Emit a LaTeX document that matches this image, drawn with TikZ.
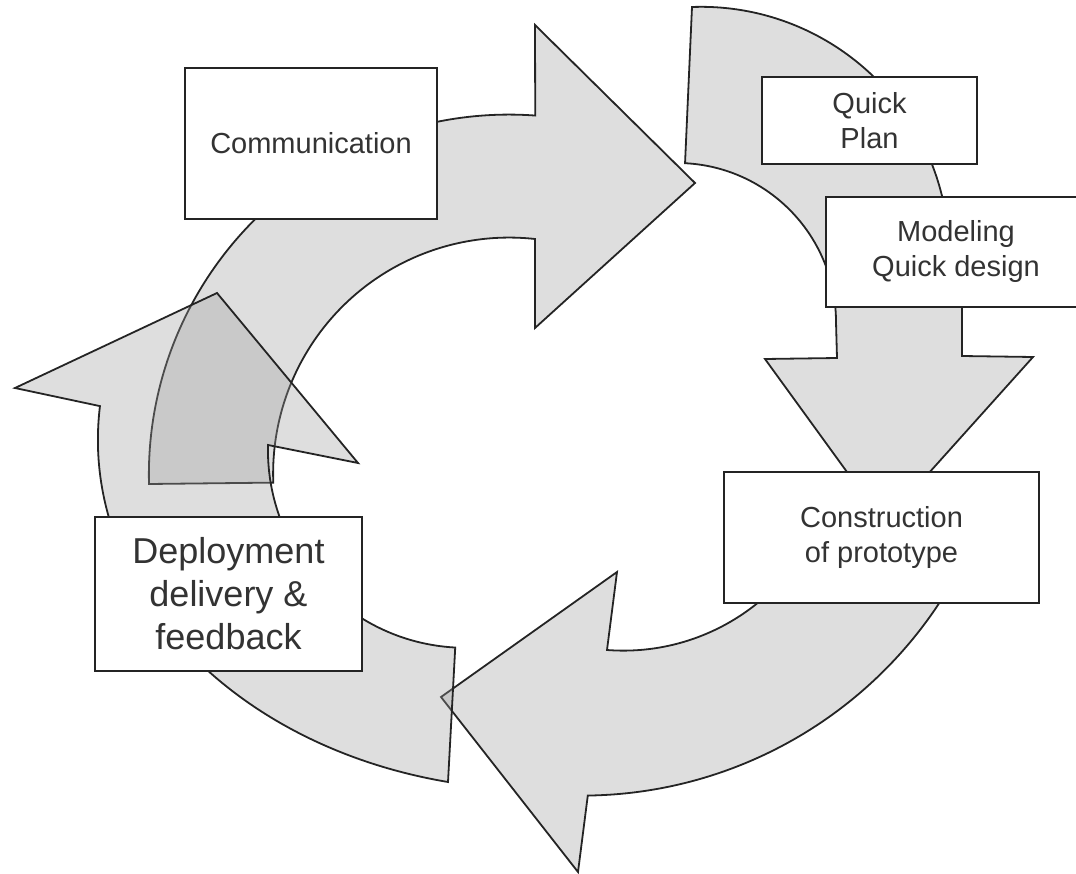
\documentclass[tikz,border=0pt]{standalone}
\usepackage{fontspec}
\setmainfont{Liberation Sans}
\usepackage{tikz}

\definecolor{ringgray}{gray}{0.61}
\definecolor{edgegray}{gray}{0.14}
\definecolor{inkgray}{gray}{0.2}

\tikzset{
  ringarrow/.style={draw=edgegray, line width=1.8pt, fill=ringgray, fill opacity=0.33},
  stage/.style={draw=edgegray, line width=2pt, fill=white, align=center, inner sep=0pt,
    text=inkgray, font=\fontsize{29}{35}\selectfont},
}

\begin{document}
\begin{tikzpicture}[x=1pt,y=-1pt]
  \clip (0,0) rectangle (1076,874);

  % the four bent arrows of the cycle
  \draw[ringarrow] (149,484) arc[start angle=178.5, end angle=274.2, radius=360]
    -- (535,25) -- (695,183) -- (535,328) -- (535,239)
    arc[start angle=276.3, end angle=177.8, radius=236] -- cycle;
  \draw[ringarrow] (692,7) arc[start angle=267.9, end angle=360, radius=248]
    -- (962,300) -- (962,356) -- (1033,357) -- (884,523) -- (765,359) -- (837,358) -- (836,322)
    arc[start angle=0, end angle=-87.1, radius=159] -- cycle;
  \draw[ringarrow] (441,697) -- (617,572) -- (607,650)
    arc[start angle=94.4, end angle=25, radius=213]
    -- (984,514) arc[start angle=20, end angle=89.2, radius=428]
    -- (578,872) -- cycle;
  \draw[ringarrow] (448,782) arc[start angle=102, end angle=185.5, x radius=442, y radius=350]
    -- (15,388) -- (217,293) -- (358,463) -- (268,445)
    arc[start angle=181.4, end angle=93.1, radius=198] -- cycle;

  % stages
  \draw (311,143.5) node[stage, minimum width=252pt, minimum height=151pt] (comm) {Communication};
  \draw (869.5,120.5) node[stage, minimum width=215pt, minimum height=87pt] (plan) {Quick\\Plan};
  \draw (956,252) node[stage, minimum width=260pt, minimum height=110pt] (model) {Modeling\\Quick design};
  \draw (881.5,537.5) node[stage, minimum width=315pt, minimum height=131pt] (build) {Construction\\of prototype};
  \draw (228.5,594) node[stage, minimum width=267pt, minimum height=154pt,
    font=\fontsize{36}{43}\selectfont] (deploy) {Deployment\\delivery \&\\feedback};

\end{tikzpicture}
\end{document}
